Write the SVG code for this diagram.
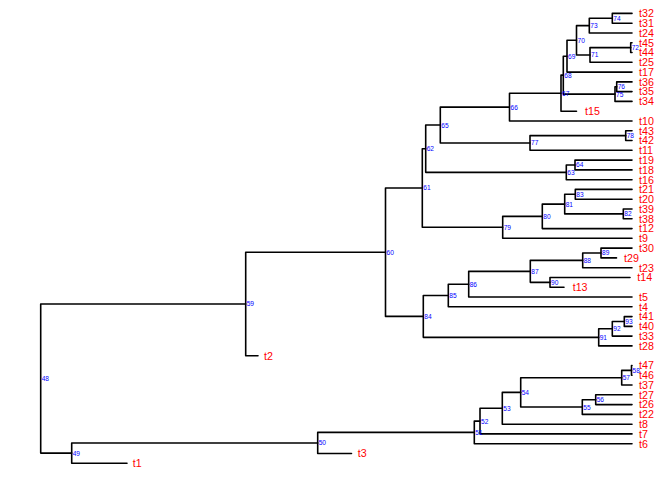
<svg xmlns="http://www.w3.org/2000/svg" width="672" height="480" viewBox="0 0 672 480">
<style>
.e{fill:none;stroke:#000;stroke-width:1.6;stroke-linecap:round;stroke-linejoin:round}
.t{fill:#ff0000;font-family:"Liberation Sans",Arial,sans-serif;font-size:10.7px}
.n{fill:#0000ff;font-family:"Liberation Sans",Arial,sans-serif;font-size:6.6px}
</style>
<rect width="672" height="480" fill="#fff"/>
<g id="connectors" class="e">
<path d="M245.7 304 H40.7 V453.1 H71.7"/>
<path d="M317.7 442.95 H71.7 V463.3 H127"/>
<path d="M474.3 432.4 H317.7 V453.5 H351.5"/>
<path d="M480 421.1 H474.3 V443.7 H632"/>
<path d="M502.3 408.3 H480 V433.9 H632"/>
<path d="M520.7 392.4 H502.3 V424.2 H632"/>
<path d="M621.7 377.7 H520.7 V407.05 H582.3"/>
<path d="M631.5 370.4 H621.7 V385 H632"/>
<path d="M632 365.5 H631.5 V375.3 H632"/>
<path d="M595.7 399.7 H582.3 V414.4 H632"/>
<path d="M632 394.8 H595.7 V404.6 H632"/>
<path d="M385.5 252.2 H245.7 V355.7 H258"/>
<path d="M422.3 188 H385.5 V316.4 H423.3"/>
<path d="M425.7 148.7 H422.3 V227.3 H502.7"/>
<path d="M440.3 125.05 H425.7 V172.35 H566.3"/>
<path d="M509.5 107.1 H440.3 V143 H530"/>
<path d="M561 93.2 H509.5 V121 H632"/>
<path d="M563.3 75.15 H561 V111.2 H576.5"/>
<path d="M567 56.2 H563.3 V94.1 H615"/>
<path d="M576.5 40.3 H567 V72.1 H632"/>
<path d="M589.3 25.65 H576.5 V54.95 H590"/>
<path d="M612.3 18.3 H589.3 V33 H632"/>
<path d="M632 13.4 H612.3 V23.2 H632"/>
<path d="M630.7 47.6 H590 V62.3 H632"/>
<path d="M632 42.7 H630.7 V52.5 H632"/>
<path d="M616.7 86.75 H615 V101.4 H632"/>
<path d="M632 81.9 H616.7 V91.6 H632"/>
<path d="M625.7 135.65 H530 V150.3 H632"/>
<path d="M632 130.8 H625.7 V140.5 H632"/>
<path d="M575 165 H566.3 V179.7 H632"/>
<path d="M632 160.1 H575 V169.9 H632"/>
<path d="M542.3 216.35 H502.7 V238.3 H632"/>
<path d="M564.7 204.1 H542.3 V228.6 H632"/>
<path d="M575.3 194.3 H564.7 V213.9 H623.3"/>
<path d="M632 189.4 H575.3 V199.2 H632"/>
<path d="M632 209 H623.3 V218.8 H632"/>
<path d="M448.3 295.5 H423.3 V337.35 H598.7"/>
<path d="M468.7 284.2 H448.3 V306.8 H632"/>
<path d="M530.3 271.35 H468.7 V297 H632"/>
<path d="M582.7 260.35 H530.3 V282.35 H550"/>
<path d="M601 253 H582.7 V267.7 H632"/>
<path d="M632 248.1 H601 V257.9 H616.5"/>
<path d="M630 277.5 H550 V287.2 H564"/>
<path d="M612.3 328.8 H598.7 V345.9 H632"/>
<path d="M624.3 321.5 H612.3 V336.1 H632"/>
<path d="M632 316.6 H624.3 V326.4 H632"/>
</g>
<g id="tips" class="t">
<g id="t32"><text x="639" y="17.2">t32</text></g>
<g id="t31"><text x="639" y="27">t31</text></g>
<g id="t24"><text x="639" y="36.8">t24</text></g>
<g id="t45"><text x="639" y="46.5">t45</text></g>
<g id="t44"><text x="639" y="56.3">t44</text></g>
<g id="t25"><text x="639" y="66.1">t25</text></g>
<g id="t17"><text x="639" y="75.9">t17</text></g>
<g id="t36"><text x="639" y="85.7">t36</text></g>
<g id="t35"><text x="639" y="95.4">t35</text></g>
<g id="t34"><text x="639" y="105.2">t34</text></g>
<g id="t15"><text x="585" y="115">t15</text></g>
<g id="t10"><text x="639" y="124.8">t10</text></g>
<g id="t43"><text x="639" y="134.6">t43</text></g>
<g id="t42"><text x="639" y="144.3">t42</text></g>
<g id="t11"><text x="639" y="154.1">t11</text></g>
<g id="t19"><text x="639" y="163.9">t19</text></g>
<g id="t18"><text x="639" y="173.7">t18</text></g>
<g id="t16"><text x="639" y="183.5">t16</text></g>
<g id="t21"><text x="639" y="193.2">t21</text></g>
<g id="t20"><text x="639" y="203">t20</text></g>
<g id="t39"><text x="639" y="212.8">t39</text></g>
<g id="t38"><text x="639" y="222.6">t38</text></g>
<g id="t12"><text x="639" y="232.4">t12</text></g>
<g id="t9"><text x="639" y="242.1">t9</text></g>
<g id="t30"><text x="639" y="251.9">t30</text></g>
<g id="t29"><text x="624" y="261.7">t29</text></g>
<g id="t23"><text x="639" y="271.5">t23</text></g>
<g id="t14"><text x="637.3" y="281.3">t14</text></g>
<g id="t13"><text x="572.7" y="291">t13</text></g>
<g id="t5"><text x="639" y="300.8">t5</text></g>
<g id="t4"><text x="639" y="310.6">t4</text></g>
<g id="t41"><text x="639" y="320.4">t41</text></g>
<g id="t40"><text x="639" y="330.2">t40</text></g>
<g id="t33"><text x="639" y="339.9">t33</text></g>
<g id="t28"><text x="639" y="349.7">t28</text></g>
<g id="t2"><text x="264" y="359.5">t2</text></g>
<g id="t47"><text x="639" y="369.3">t47</text></g>
<g id="t46"><text x="639" y="379.1">t46</text></g>
<g id="t37"><text x="639" y="388.8">t37</text></g>
<g id="t27"><text x="639" y="398.6">t27</text></g>
<g id="t26"><text x="639" y="408.4">t26</text></g>
<g id="t22"><text x="639" y="418.2">t22</text></g>
<g id="t8"><text x="639" y="428">t8</text></g>
<g id="t7"><text x="639" y="437.7">t7</text></g>
<g id="t6"><text x="639" y="447.5">t6</text></g>
<g id="t3"><text x="357.7" y="457.3">t3</text></g>
<g id="t1"><text x="132.7" y="467.1">t1</text></g>
</g>
<g id="internal" class="n">
<g id="n48"><text x="41.7" y="381">48</text></g>
<g id="n49"><text x="72.7" y="455.5">49</text></g>
<g id="n50"><text x="318.7" y="445.4">50</text></g>
<g id="n51"><text x="475.3" y="434.8">51</text></g>
<g id="n52"><text x="481" y="423.5">52</text></g>
<g id="n53"><text x="503.3" y="410.7">53</text></g>
<g id="n54"><text x="521.7" y="394.8">54</text></g>
<g id="n55"><text x="583.3" y="409.5">55</text></g>
<g id="n56"><text x="596.7" y="402.1">56</text></g>
<g id="n57"><text x="622.7" y="380.1">57</text></g>
<g id="n58"><text x="632.5" y="372.8">58</text></g>
<g id="n59"><text x="246.7" y="306.4">59</text></g>
<g id="n60"><text x="386.5" y="254.6">60</text></g>
<g id="n61"><text x="423.3" y="190.4">61</text></g>
<g id="n62"><text x="426.7" y="151.1">62</text></g>
<g id="n63"><text x="567.3" y="174.8">63</text></g>
<g id="n64"><text x="576" y="167.4">64</text></g>
<g id="n65"><text x="441.3" y="127.5">65</text></g>
<g id="n66"><text x="510.5" y="109.5">66</text></g>
<g id="n67"><text x="562" y="95.6">67</text></g>
<g id="n68"><text x="564.3" y="77.6">68</text></g>
<g id="n69"><text x="568" y="58.6">69</text></g>
<g id="n70"><text x="577.5" y="42.7">70</text></g>
<g id="n71"><text x="591" y="57.4">71</text></g>
<g id="n72"><text x="631.7" y="50">72</text></g>
<g id="n73"><text x="590.3" y="28">73</text></g>
<g id="n74"><text x="613.3" y="20.7">74</text></g>
<g id="n75"><text x="616" y="96.5">75</text></g>
<g id="n76"><text x="617.7" y="89.2">76</text></g>
<g id="n77"><text x="531" y="145.4">77</text></g>
<g id="n78"><text x="626.7" y="138">78</text></g>
<g id="n79"><text x="503.7" y="229.7">79</text></g>
<g id="n80"><text x="543.3" y="218.8">80</text></g>
<g id="n81"><text x="565.7" y="206.5">81</text></g>
<g id="n82"><text x="624.3" y="216.3">82</text></g>
<g id="n83"><text x="576.3" y="196.7">83</text></g>
<g id="n84"><text x="424.3" y="318.8">84</text></g>
<g id="n85"><text x="449.3" y="297.9">85</text></g>
<g id="n86"><text x="469.7" y="286.6">86</text></g>
<g id="n87"><text x="531.3" y="273.8">87</text></g>
<g id="n88"><text x="583.7" y="262.8">88</text></g>
<g id="n89"><text x="602" y="255.4">89</text></g>
<g id="n90"><text x="551" y="284.8">90</text></g>
<g id="n91"><text x="599.7" y="339.8">91</text></g>
<g id="n92"><text x="613.3" y="331.2">92</text></g>
<g id="n93"><text x="625.3" y="323.9">93</text></g>
</g>
</svg>
